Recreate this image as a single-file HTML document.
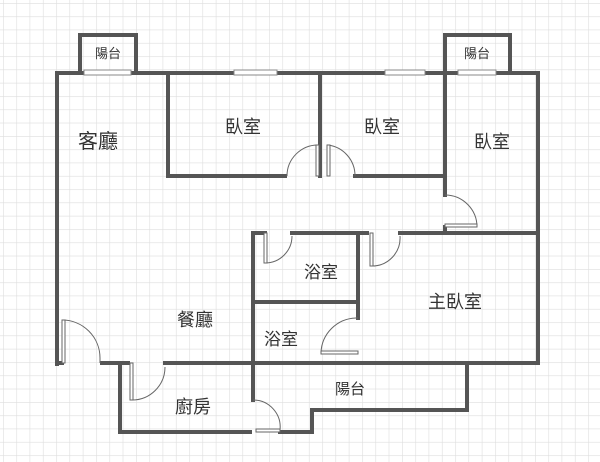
<!DOCTYPE html>
<html><head><meta charset="utf-8"><style>
html,body{margin:0;padding:0;background:#fff}
svg{display:block}
text{font-family:"Liberation Sans","Noto Sans CJK TC",sans-serif;fill:#333}
</style></head><body>
<svg width="600" height="462" viewBox="0 0 600 462" xmlns="http://www.w3.org/2000/svg">
<defs>
<pattern id="g" x="3" y="3" width="13.3" height="13.3" patternUnits="userSpaceOnUse">
<path d="M0 0H13.3M0 0V13.3" stroke="#dedede" stroke-width="1.2" fill="none"/>
</pattern>
</defs>
<rect width="600" height="462" fill="#fff"/>
<rect width="600" height="462" fill="url(#g)"/>
<g stroke="#555" stroke-width="4" fill="none" stroke-linecap="square">
<!-- outer -->
<path d="M57 364V73H538V363"/>
<path d="M80 73V35H136V73"/>
<path d="M445 73V35H510V73"/>
<!-- bedroom 1 -->
<path d="M168 73V176H285"/>
<path d="M320 73V176"/>
<path d="M355 176H445V195"/>
<path d="M445 73V176"/>
<path d="M445 227V233H538"/>
<!-- bath block -->
<path d="M253 363V233H265"/>
<path d="M292 233H367"/>
<path d="M400 233H445"/>
<path d="M358 233V318"/>
<path d="M253 302H358"/>
<!-- bottom -->
<path d="M57 363H62"/>
<path d="M102 363H128"/>
<path d="M165 363H538"/>
<path d="M120 363V432H250"/>
<path d="M280 432H312V410H467V363"/>
<path d="M253 363V400"/>
</g>
<!-- windows -->
<g stroke="#888" stroke-width="1" fill="#fff">
<rect x="84" y="70" width="47" height="5"/>
<rect x="234" y="70" width="43" height="5"/>
<rect x="385" y="70" width="40" height="5"/>
<rect x="458" y="70" width="38" height="5"/>
</g>
<!-- doors -->
<g stroke="#666" stroke-width="1" fill="none">
<path d="M318 176V145A31 31 0 0 0 287 176"/><rect x="316" y="145" width="3" height="31" fill="#fff"/>
<path d="M328 176V145A31 31 0 0 1 355 176"/><rect x="327" y="145" width="3" height="31" fill="#fff"/>
<path d="M445 195A32 32 0 0 1 477 227H445"/><rect x="445" y="224" width="32" height="3" fill="#fff"/>
<path d="M265 233V263A27 27 0 0 0 292 236"/><rect x="264" y="233" width="3" height="30" fill="#fff"/>
<path d="M372 233V266A28 28 0 0 0 400 236"/><rect x="370" y="233" width="3" height="33" fill="#fff"/>
<path d="M358 318H356A36 36 0 0 0 321 353H358"/><rect x="321" y="351" width="37" height="3" fill="#fff"/>
<path d="M62 363V320A38 38 0 0 1 100 358V363"/><rect x="62" y="320" width="3" height="43" fill="#fff"/>
<path d="M132 363V400A33 33 0 0 0 165 367"/><rect x="130" y="363" width="3" height="37" fill="#fff"/>
<path d="M253 400A27 27 0 0 1 280 430"/><rect x="256" y="429" width="24" height="3" fill="#fff"/>
</g>
<g font-size="20" text-anchor="middle">
<text x="98" y="148">客廳</text>
<text x="243" y="133" font-size="18">臥室</text>
<text x="382" y="133" font-size="18">臥室</text>
<text x="492" y="148" font-size="18">臥室</text>
<text x="321" y="278" font-size="17">浴室</text>
<text x="281" y="345" font-size="17">浴室</text>
<text x="195" y="326" font-size="18">餐廳</text>
<text x="455" y="308" font-size="18">主臥室</text>
<text x="193" y="413" font-size="18">廚房</text>
<text x="108" y="58" font-size="13">陽台</text>
<text x="477" y="58" font-size="13">陽台</text>
<text x="350" y="394" font-size="15">陽台</text>
</g>
</svg>
</body></html>
